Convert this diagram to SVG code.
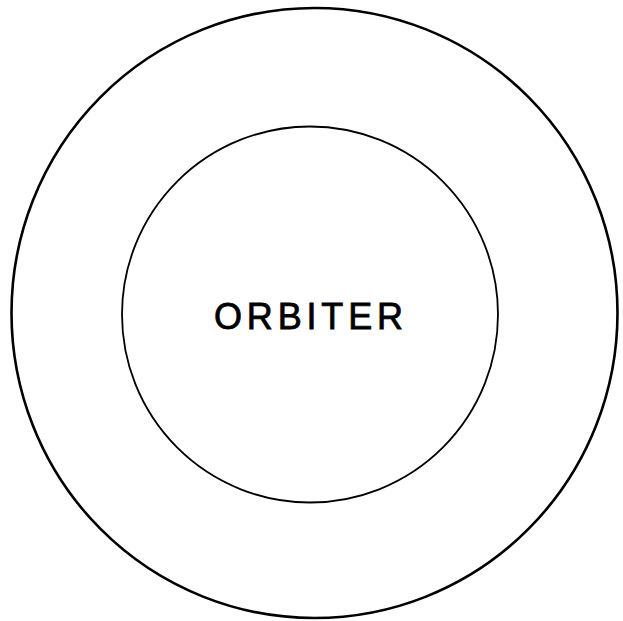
<svg xmlns="http://www.w3.org/2000/svg" width="623" height="621" viewBox="0 0 623 621">
<style>
.ring{fill:none;stroke:#000}
.lbl{font-family:"Liberation Sans",Arial,Helvetica,sans-serif;font-size:36px;fill:#000;stroke:#000;stroke-width:0.8}
</style>
<rect width="623" height="621" fill="#fff"/>
<g id="outer"><ellipse class="ring" cx="314.5" cy="313" rx="303" ry="305" stroke-width="2.6"/></g>
<g id="orbiter">
<circle class="ring" cx="310" cy="314.5" r="188" stroke-width="1.8"/>
<text class="lbl" x="214" y="329" textLength="189" lengthAdjust="spacing">ORBITER</text>
</g>
<g id="connectors"/>
</svg>
